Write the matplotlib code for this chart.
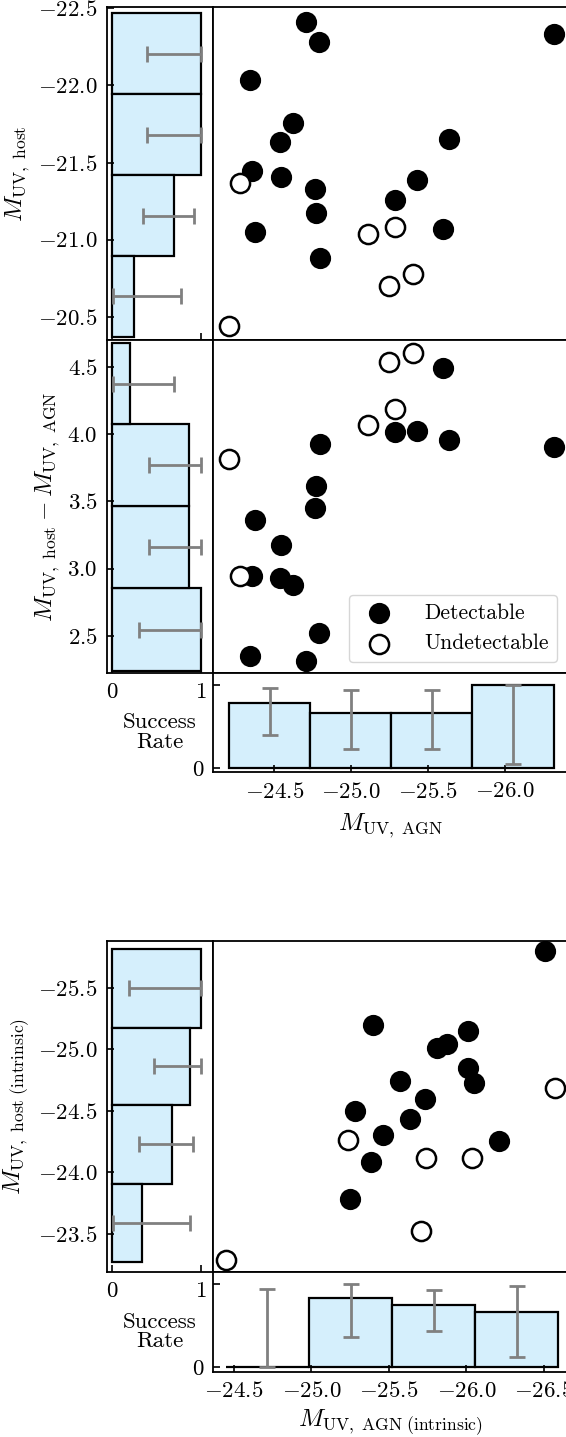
import numpy as np
import matplotlib.pyplot as plt

plt.rcParams['font.family'] = 'serif'
plt.rcParams['font.serif'] = ['cmr10']
plt.rcParams['mathtext.fontset'] = 'cm'
plt.rcParams['axes.formatter.use_mathtext'] = True
plt.rcParams['font.size'] = 16.5
plt.rcParams['axes.labelsize'] = 18
plt.rcParams['axes.linewidth'] = 1.3
plt.rcParams['xtick.direction'] = 'in'
plt.rcParams['ytick.direction'] = 'in'
plt.rcParams['xtick.major.size'] = 5
plt.rcParams['ytick.major.size'] = 5
plt.rcParams['xtick.major.width'] = 1.2
plt.rcParams['ytick.major.width'] = 1.2
plt.rcParams['xtick.major.pad'] = 7
plt.rcParams['ytick.major.pad'] = 7

# ---- group 1: observed ----
agn1 = [-24.206, -24.275, -24.340, -24.356, -24.373, -24.536, -24.547, -24.622, -24.707, -24.764, -24.770,
        -24.790, -24.796, -25.107, -25.247, -25.283, -25.284, -25.405, -25.431, -25.598, -25.637, -26.317]
host1 = [-20.44, -21.369, -22.035, -21.445, -21.047, -21.635, -21.408, -21.759, -22.409, -21.328, -21.174,
         -22.280, -20.879, -21.034, -20.701, -21.084, -21.255, -20.777, -21.385, -21.067, -21.650, -22.331]
diff1 = [3.815, 2.947, 2.352, 2.947, 3.364, 2.930, 3.173, 2.880, 2.315, 3.453, 3.612,
         2.525, 3.929, 4.065, 4.537, 4.188, 4.013, 4.604, 4.021, 4.493, 3.952, 3.905]
det1 = [0, 0, 1, 1, 1, 1, 1, 1, 1, 1, 1, 1, 1, 0, 0, 0, 1, 0, 1, 1, 1, 1]

host1_edges = [-22.468, -21.942, -21.419, -20.894, -20.369]
host1_rate = [1.0, 1.0, 0.70, 0.25]
host1_lo = [0.39, 0.39, 0.35, 0.008]
host1_hi = [1.0, 1.0, 0.925, 0.78]

diff1_edges = [2.24, 2.855, 3.463, 4.071, 4.673]
diff1_rate = [1.0, 0.86, 0.86, 0.2]
diff1_lo = [0.307, 0.416, 0.416, 0.008]
diff1_hi = [1.0, 1.0, 1.0, 0.70]

agn1_edges = [-24.206, -24.734, -25.262, -25.789, -26.317]
agn1_rate = [0.778, 0.667, 0.667, 1.0]
agn1_lo = [0.40, 0.23, 0.23, 0.045]
agn1_hi = [0.964, 0.94, 0.94, 1.0]

# ---- group 2: intrinsic ----
agn2 = [-24.448, -26.505, -25.395, -26.008, -25.808, -25.872, -26.012, -26.048, -26.573, -25.571, -25.732,
        -25.279, -25.637, -25.234, -25.463, -26.208, -25.382, -25.737, -26.037, -25.248, -25.708]
host2 = [-23.29, -25.80, -25.197, -25.151, -25.008, -25.041, -24.846, -24.724, -24.688, -24.743, -24.594,
         -24.497, -24.434, -24.264, -24.302, -24.256, -24.085, -24.115, -24.115, -23.782, -23.525]
det2 = [0, 1, 1, 1, 1, 1, 1, 1, 0, 1, 1, 1, 1, 0, 1, 1, 1, 0, 0, 1, 0]

host2_edges = [-25.812, -25.175, -24.548, -23.907, -23.271]
host2_rate = [1.0, 0.876, 0.67, 0.334]
host2_lo = [0.19, 0.468, 0.307, 0.008]
host2_hi = [1.0, 1.0, 0.913, 0.876]

agn2_edges = [-24.448, -24.984, -25.52, -26.056, -26.592]
agn2_rate = [0.0, 0.833, 0.75, 0.667]
agn2_lo = [0.0, 0.37, 0.435, 0.127]
agn2_hi = [0.947, 1.0, 0.93, 0.98]

BAR = '#d5effc'
ERR = '#808080'
W, H = 566, 1437


def box(x0, x1, y0, y1):
    return [x0 / W, 1 - y1 / H, (x1 - x0) / W, (y1 - y0) / H]


def side_hist(ax, edges, rate, lo, hi, show_x):
    e = np.array(edges)
    r = np.array(rate)
    ax.barh(e[:-1], r, height=np.diff(e), align='edge', color=BAR, edgecolor='k', lw=1.6)
    c = (e[:-1] + e[1:]) / 2
    ax.errorbar(r, c, xerr=[r - np.array(lo), np.array(hi) - r], fmt='none', ecolor=ERR,
                elinewidth=2, capsize=5.5, capthick=2, zorder=3)
    ax.set_xlim(-0.053, 1.135)
    ax.set_xticks([0, 1])
    ax.tick_params(labelbottom=show_x)


def rate_hist(ax, edges, rate, lo, hi):
    e = np.array(edges)
    r = np.array(rate)
    ax.bar(e[:-1], r, width=np.diff(e), align='edge', color=BAR, edgecolor='k', lw=1.6)
    c = (e[:-1] + e[1:]) / 2
    ax.errorbar(c, r, yerr=[r - np.array(lo), np.array(hi) - r], fmt='none', ecolor=ERR,
                elinewidth=2, capsize=5.5, capthick=2, zorder=3)
    ax.set_ylim(-0.05, 1.15)
    ax.set_yticks([0, 1])
    ax.set_yticklabels(['0', ''])
    ax.set_ylabel('Success\nRate', rotation=0, ha='center', va='center', linespacing=1.0, fontsize=16.5)
    ax.yaxis.set_label_coords(-0.149, 0.40)


def points(ax, x, y, det, legend=False):
    x = np.array(x)
    y = np.array(y)
    d = np.array(det) == 1
    ax.scatter(x[d], y[d], s=190, facecolors='k', edgecolors='k', linewidths=1.5, label='Detectable', zorder=3)
    ax.scatter(x[~d], y[~d], s=190, facecolors='white', edgecolors='k', linewidths=1.8,
               label='Undetectable', zorder=3)
    ax.tick_params(left=False, bottom=False, labelleft=False, labelbottom=False)
    if legend:
        ax.legend(loc='lower right', fontsize=15.5, handletextpad=1.1, borderpad=0.4)


fig = plt.figure(figsize=(W / 100, H / 100), dpi=100)

# group 1
h_top = fig.add_axes(box(107.3, 213, 7.3, 340))
s_top = fig.add_axes(box(213, 568, 7.3, 340), sharey=h_top)
h_mid = fig.add_axes(box(107.3, 213, 340, 672.7))
s_mid = fig.add_axes(box(213, 568, 340, 672.7), sharey=h_mid)
r1 = fig.add_axes(box(213, 568, 672.7, 772), sharex=s_top)
s_mid.sharex(s_top)

side_hist(h_top, host1_edges, host1_rate, host1_lo, host1_hi, False)
side_hist(h_mid, diff1_edges, diff1_rate, diff1_lo, diff1_hi, True)
h_top.set_ylim(-20.349, -22.507)
h_mid.set_ylim(2.227, 4.698)
h_top.set_yticks([-22.5, -22.0, -21.5, -21.0, -20.5])
h_mid.set_yticks([2.5, 3.0, 3.5, 4.0, 4.5])
h_top.set_ylabel(r'$M_{\rm UV,\ host}$')
h_mid.set_ylabel(r'$M_{\rm UV,\ host} - M_{\rm UV,\ AGN}$')

points(s_top, agn1, host1, det1)
points(s_mid, agn1, diff1, det1, legend=True)

rate_hist(r1, agn1_edges, agn1_rate, agn1_lo, agn1_hi)
r1.set_xlim(-24.102, -26.41)
r1.set_xticks([-24.5, -25.0, -25.5, -26.0])
r1.tick_params(labelbottom=True)
r1.set_xlabel(r'$M_{\rm UV,\ AGN}$', labelpad=7)

# group 2
h_b = fig.add_axes(box(107.3, 213, 941, 1271.7))
s_b = fig.add_axes(box(213, 568, 941, 1271.7), sharey=h_b)
r2 = fig.add_axes(box(213, 568, 1271.7, 1371.5), sharex=s_b)

side_hist(h_b, host2_edges, host2_rate, host2_lo, host2_hi, True)
h_b.set_ylim(-23.194, -25.879)
h_b.set_yticks([-25.5, -25.0, -24.5, -24.0, -23.5])
h_b.set_ylabel(r'$M_{\rm UV,\ host\ (intrinsic)}$')

points(s_b, agn2, host2, det2)

rate_hist(r2, agn2_edges, agn2_rate, agn2_lo, agn2_hi)
r2.set_xlim(-24.365, -26.655)
r2.set_xticks([-24.5, -25.0, -25.5, -26.0, -26.5])
r2.tick_params(labelbottom=True)
r2.set_xlabel(r'$M_{\rm UV,\ AGN\ (intrinsic)}$', labelpad=5)

fig.savefig('out.png', dpi=100)
